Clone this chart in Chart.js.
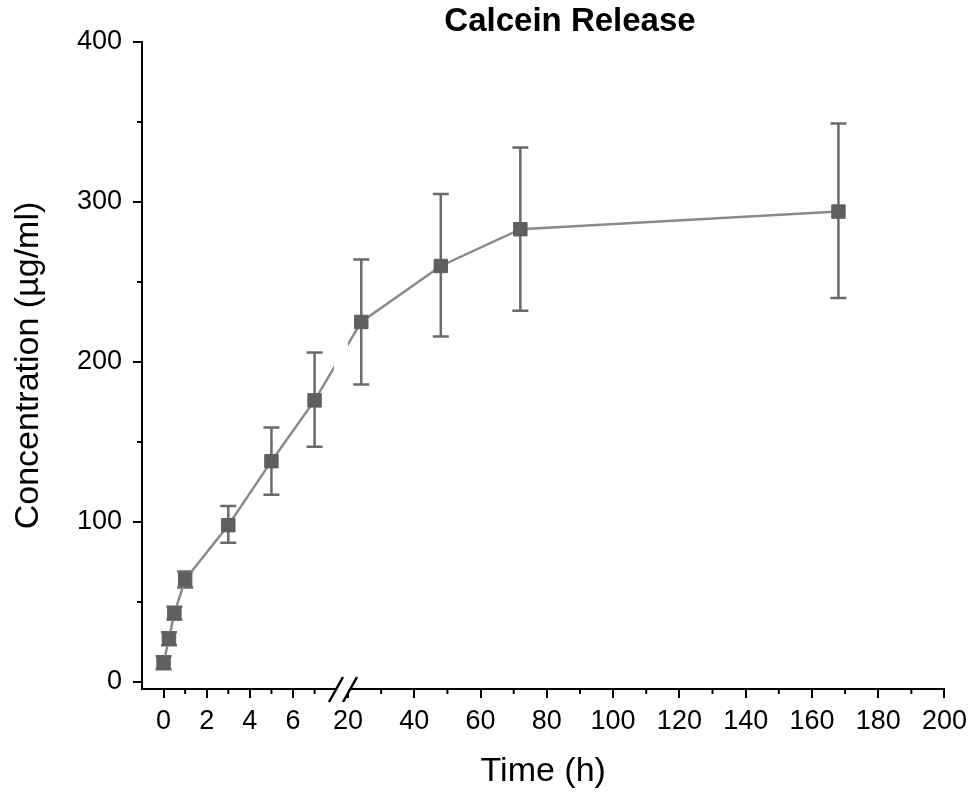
<!DOCTYPE html>
<html>
<head>
<meta charset="utf-8">
<title>Calcein Release</title>
<script src="https://cdn.jsdelivr.net/npm/chart.js@4.4.0/dist/chart.umd.min.js"></script>
<style>
    html, body { margin: 0; padding: 0; background: #fff; }
    #wrap { width: 974px; height: 794px; }
</style>
</head>
<body>
<div id="wrap"><canvas id="releaseChart" width="974" height="794"></canvas></div>
<script>
// 数据
const times = [0, 0.25, 0.5, 1, 3, 5, 7, 24, 48, 72, 168];
const concentration = [12, 27, 43, 64, 98, 138, 176, 225, 260, 283, 294];
const errHigh = [16, 31, 47, 69, 110, 159, 206, 264, 305, 334, 349];
const errLow = [8, 23, 39, 59, 87, 117, 147, 186, 216, 232, 240];

// 刻度
const xMajorTicks = [0, 2, 4, 6, 20, 40, 60, 80, 100, 120, 140, 160, 180, 200];
const xMinorTicks = [1, 3, 5, 7, 30, 50, 70, 90, 110, 130, 150, 170, 190];
const yMajorTicks = [0, 100, 200, 300, 400];
const yMinorTicks = [50, 150, 250, 350];

// 断轴: 左段 -1 ~ 7.9, 右段 20 ~ 200
const BREAK_FROM = 7.9;
const BREAK_TO = 20;
const GAP = 0.65;
const RIGHT_SCALE = 0.1536;
const pos = t => t <= BREAK_FROM ? t : BREAK_FROM + GAP + (t - BREAK_TO) * RIGHT_SCALE;

const FONT = '"Liberation Sans", Arial, sans-serif';
const labelOf = new Map(xMajorTicks.map(t => [pos(t).toFixed(4), String(t)]));
const isMajorX = v => labelOf.has(v.toFixed(4));

const extrasPlugin = {
    id: 'extras',
    beforeDatasetsDraw(chart) {
        // 误差棒
        const {ctx, scales: {x, y}} = chart;
        ctx.save();
        ctx.strokeStyle = '#6a6a6a';
        ctx.lineWidth = 2.5;
        times.forEach((t, i) => {
            const px = x.getPixelForValue(pos(t));
            const hi = y.getPixelForValue(errHigh[i]);
            const lo = y.getPixelForValue(errLow[i]);
            ctx.beginPath();
            ctx.moveTo(px, hi); ctx.lineTo(px, lo);
            ctx.moveTo(px - 8, hi); ctx.lineTo(px + 8, hi);
            ctx.moveTo(px - 8, lo); ctx.lineTo(px + 8, lo);
            ctx.stroke();
        });
        ctx.restore();
    },
    afterDatasetsDraw(chart) {
        // 断点处的线段空隙
        const {ctx, chartArea, scales: {x}} = chart;
        const p1 = x.getPixelForValue(BREAK_FROM);
        const p2 = x.getPixelForValue(pos(BREAK_TO));
        ctx.save();
        ctx.fillStyle = '#fff';
        ctx.fillRect(p1, chartArea.top, p2 - p1, chartArea.bottom - chartArea.top - 2);
        ctx.restore();
    },
    afterDraw(chart) {
        const {ctx, chartArea, scales: {x, y}} = chart;
        ctx.save();
        ctx.strokeStyle = '#000';
        ctx.lineWidth = 2;
        // 次刻度
        ctx.beginPath();
        xMinorTicks.forEach(t => {
            const px = x.getPixelForValue(pos(t));
            ctx.moveTo(px, chartArea.bottom);
            ctx.lineTo(px, chartArea.bottom + 5);
        });
        yMinorTicks.forEach(v => {
            const py = y.getPixelForValue(v);
            ctx.moveTo(chartArea.left, py);
            ctx.lineTo(chartArea.left - 5, py);
        });
        ctx.stroke();

        // 断轴标记 //
        const p1 = x.getPixelForValue(BREAK_FROM);
        const p2 = x.getPixelForValue(pos(BREAK_TO));
        const b = chartArea.bottom;
        ctx.fillStyle = '#fff';
        ctx.fillRect(p1 + 2, b - 3, p2 - p1, 6);
        ctx.lineWidth = 2.5;
        ctx.beginPath();
        [p1 + 2, p2 + 2].forEach(cx => {
            ctx.moveTo(cx - 7, b + 13);
            ctx.lineTo(cx + 7, b - 12);
        });
        ctx.stroke();

        // 标题
        ctx.fillStyle = '#000';
        ctx.font = 'bold 33px ' + FONT;
        ctx.textAlign = 'center';
        ctx.textBaseline = 'middle';
        ctx.fillText('Calcein Release', 570, 22);
        ctx.restore();
    }
};

window.onload = () => {
    const ctx = document.getElementById('releaseChart').getContext('2d');
    new Chart(ctx, {
        type: 'line',
        data: {
            datasets: [{
                label: 'Calcein',
                data: times.map((t, i) => ({x: pos(t), y: concentration[i]})),
                borderColor: '#8a8a8a',
                borderWidth: 2.5,
                pointStyle: 'rect',
                pointRadius: 9.5,
                pointBackgroundColor: '#5f5f5f',
                pointBorderColor: '#5f5f5f',
                pointBorderWidth: 1,
                tension: 0
            }]
        },
        options: {
            responsive: false,
            animation: false,
            layout: {padding: {top: 42, right: 29, left: 0, bottom: 0}},
            plugins: {
                legend: {display: false},
                tooltip: {enabled: false}
            },
            scales: {
                x: {
                    type: 'linear',
                    min: -1,
                    max: pos(200),
                    afterBuildTicks: scale => {
                        scale.ticks = xMajorTicks.map(t => ({value: pos(t)}));
                    },
                    afterFit: scale => { scale.height = 105; },
                    ticks: {
                        autoSkip: false,
                        maxRotation: 0,
                        padding: 7,
                        color: '#000',
                        font: {family: FONT, size: 27},
                        callback: v => labelOf.get(v.toFixed(4)) || ''
                    },
                    grid: {
                        drawOnChartArea: false,
                        tickLength: 9,
                        lineWidth: 2,
                        color: c => (c.tick && isMajorX(c.tick.value)) ? '#000' : 'rgba(0,0,0,0)'
                    },
                    border: {display: true, color: '#000', width: 2},
                    title: {
                        display: true,
                        text: 'Time (h)',
                        color: '#000',
                        font: {family: FONT, size: 34},
                        padding: {top: 2, bottom: 2}
                    }
                },
                y: {
                    min: -4.4,
                    max: 400,
                    afterBuildTicks: scale => {
                        scale.ticks = yMajorTicks.map(v => ({value: v}));
                    },
                    afterFit: scale => { scale.width = 142; },
                    ticks: {
                        padding: 11,
                        color: '#000',
                        font: {family: FONT, size: 27}
                    },
                    grid: {
                        drawOnChartArea: false,
                        tickLength: 9,
                        lineWidth: 2,
                        color: '#000'
                    },
                    border: {display: true, color: '#000', width: 2},
                    title: {
                        display: true,
                        text: 'Concentration (µg/ml)',
                        color: '#000',
                        font: {family: FONT, size: 34},
                        padding: {top: 8, bottom: 8}
                    }
                }
            }
        },
        plugins: [extrasPlugin]
    });
}
</script>
</body>
</html>
